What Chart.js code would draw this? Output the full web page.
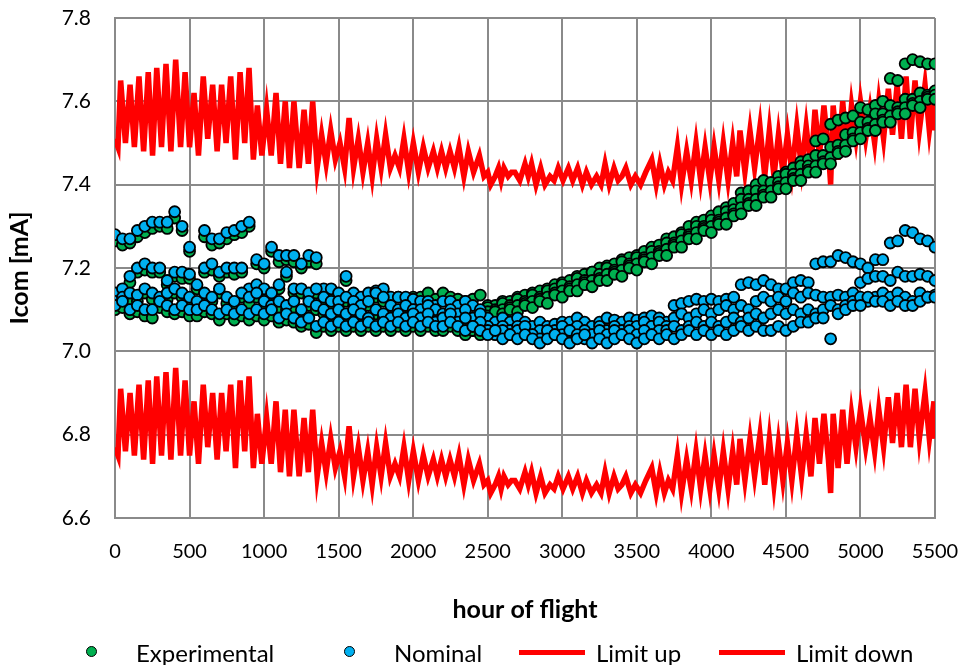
<!DOCTYPE html>
<html>
<head>
<meta charset="utf-8">
<title>Icom vs hour of flight</title>
<script src="https://cdn.jsdelivr.net/npm/chart.js@4.4.1/dist/chart.umd.min.js"></script>
<style>
  html, body { margin: 0; padding: 0; background: #ffffff; }
  #wrap { position: relative; width: 960px; height: 665px; overflow: hidden; }
  #chart { position: absolute; left: 0; top: 0; }
  .lg-item { position: absolute; top: 638px; height: 28px; display: flex; align-items: center;
             font-family: Lato, "Open Sans", "DejaVu Sans", sans-serif; font-size: 24px; color: #000; white-space: nowrap; }
  .lg-key { position: relative; width: 66px; height: 28px; flex: none; }
  .lg-dot { position: absolute; left: 27px; top: 8px; width: 9px; height: 9px; border: 1.5px solid #000; border-radius: 50%; }
  .lg-bar { position: absolute; left: 0; top: 11.5px; width: 66px; height: 5px; }
  .lg-txt { margin-left: 11px; }
</style>
</head>
<body>
<div id="wrap">
  <canvas id="chart" width="960" height="665"></canvas>
  <div id="legend"></div>
</div>
<script>
// Sampling hours for the measured current strands
const hours = [
  0, 50, 100, 150, 200, 250, 300, 350, 400, 450,
  500, 550, 600, 650, 700, 750, 800, 850, 900, 950,
  1000, 1050, 1100, 1150, 1200, 1250, 1300, 1350, 1400, 1450,
  1500, 1550, 1600, 1650, 1700, 1750, 1800, 1850, 1900, 1950,
  2000, 2050, 2100, 2150, 2200, 2250, 2300, 2350, 2400, 2450,
  2500, 2550, 2600, 2650, 2700, 2750, 2800, 2850, 2900, 2950,
  3000, 3050, 3100, 3150, 3200, 3250, 3300, 3350, 3400, 3450,
  3500, 3550, 3600, 3650, 3700, 3750, 3800, 3850, 3900, 3950,
  4000, 4050, 4100, 4150, 4200, 4250, 4300, 4350, 4400, 4450,
  4500, 4550, 4600, 4650, 4700, 4750, 4800, 4850, 4900, 4950,
  5000, 5050, 5100, 5150, 5200, 5250, 5300, 5350, 5400, 5450,
  5500
];

// Nominal Icom [mA], four interleaved strands
const nominalA = [
  7.28, 7.27, 7.27, 7.29, 7.30, 7.31, 7.31, 7.31, 7.335, 7.30,
  7.25, null, 7.29, 7.27, 7.27, 7.285, 7.29, 7.30, 7.31, 7.22,
  7.21, 7.25, 7.23, 7.23, 7.23, 7.21, 7.23, 7.225, 7.15, 7.15,
  7.14, 7.18, 7.14, 7.13, 7.14, 7.145, 7.15, 7.13, 7.13, 7.13,
  7.125, 7.12, 7.12, 7.11, 7.12, 7.12, 7.11, 7.12, 7.11, 7.10,
  7.08, 7.07, 7.08, 7.07, 7.08, 7.07, 7.06, 7.07, 7.06, 7.065,
  7.07, 7.07, 7.08, 7.07, 7.06, 7.07, 7.08, 7.075, 7.07, 7.08,
  7.075, 7.08, 7.085, 7.08, 7.07, 7.11, 7.115, 7.12, 7.125, 7.12,
  7.125, 7.12, 7.125, 7.13, 7.16, 7.165, 7.16, 7.17, 7.16, 7.15,
  7.15, 7.165, 7.17, 7.165, 7.21, 7.215, 7.215, 7.23, 7.225, 7.215,
  7.21, 7.20, 7.22, 7.22, 7.26, 7.265, 7.29, 7.285, 7.27, 7.265,
  7.25
];
const nominalB = [
  7.14, 7.15, 7.18, 7.20, 7.21, 7.20, 7.20, 7.17, 7.19, 7.19,
  7.185, 7.16, 7.20, 7.21, 7.19, 7.20, 7.20, 7.20, 7.15, 7.16,
  7.15, 7.14, 7.16, 7.19, 7.15, 7.15, 7.14, 7.15, 7.13, 7.12,
  7.12, 7.13, 7.12, 7.11, 7.12, 7.14, 7.13, 7.11, 7.10, 7.11,
  7.10, 7.10, 7.11, 7.10, 7.09, 7.10, 7.09, 7.10, 7.08, 7.09,
  7.06, 7.05, 7.06, 7.05, 7.06, 7.05, 7.04, 7.05, 7.04, 7.05,
  7.06, 7.05, 7.06, 7.05, 7.04, 7.06, 7.05, 7.06, 7.05, 7.06,
  7.06, 7.07, 7.06, 7.07, 7.06, 7.08, 7.09, 7.08, 7.09, 7.10,
  7.09, 7.10, 7.11, 7.10, 7.11, 7.10, 7.12, 7.13, 7.12, 7.13,
  7.12, 7.14, 7.13, 7.14, 7.135, 7.13, 7.13, 7.135, 7.13, 7.14,
  7.165, 7.175, 7.18, 7.18, 7.17, 7.19, 7.18, 7.18, 7.185, 7.18,
  7.17
];
const nominalC = [
  7.12, 7.13, 7.14, 7.135, 7.15, 7.14, 7.13, 7.14, 7.15, 7.14,
  7.13, 7.12, 7.14, 7.13, 7.15, 7.13, 7.12, 7.14, 7.13, 7.14,
  7.12, 7.11, 7.12, 7.11, 7.12, 7.10, 7.12, 7.11, 7.10, 7.09,
  7.10, 7.09, 7.10, 7.09, 7.08, 7.10, 7.09, 7.08, 7.09, 7.08,
  7.09, 7.08, 7.09, 7.07, 7.08, 7.09, 7.07, 7.08, 7.06, 7.07,
  7.05, 7.04, 7.05, 7.04, 7.05, 7.06, 7.04, 7.03, 7.05, 7.04,
  7.04, 7.05, 7.04, 7.03, 7.04, 7.05, 7.04, 7.05, 7.04, 7.05,
  7.04, 7.05, 7.04, 7.05, 7.05, 7.06, 7.05, 7.06, 7.07, 7.06,
  7.07, 7.06, 7.07, 7.08, 7.07, 7.08, 7.09, 7.08, 7.09, 7.10,
  7.09, 7.10, 7.09, 7.10, 7.09, 7.10, 7.11, 7.10, 7.11, 7.12,
  7.13, 7.12, 7.13, 7.14, 7.13, 7.14, 7.13, 7.12, 7.14, 7.13,
  7.135
];
const nominalD = [
  7.11, 7.12, 7.10, 7.11, 7.10, 7.10, 7.12, 7.11, 7.10, 7.11,
  7.10, 7.10, 7.11, 7.10, 7.09, 7.10, 7.09, 7.10, 7.09, 7.10,
  7.09, 7.10, 7.08, 7.09, 7.08, 7.07, 7.08, 7.06, 7.07, 7.06,
  7.07, 7.06, 7.07, 7.06, 7.07, 7.06, 7.07, 7.06, 7.07, 7.06,
  7.07, 7.06, 7.07, 7.06, 7.06, 7.07, 7.06, 7.05, 7.06, 7.05,
  7.04, 7.05, 7.03, 7.04, 7.03, 7.04, 7.03, 7.02, 7.03, 7.04,
  7.03, 7.02, 7.03, 7.04, 7.02, 7.03, 7.02, 7.03, 7.04, 7.03,
  7.02, 7.03, 7.04, 7.03, 7.04, 7.03, 7.04, 7.05, 7.04, 7.05,
  7.04, 7.05, 7.04, 7.05, 7.06, 7.05, 7.06, 7.05, 7.05, 7.06,
  7.05, 7.06, 7.07, 7.07, 7.08, 7.08, 7.03, 7.09, 7.10, 7.11,
  7.11, 7.13, 7.12, 7.12, 7.11, 7.12, 7.11, 7.11, 7.12, 7.13,
  7.13
];

// Experimental Icom [mA], four interleaved strands
const experimentalA = [
  7.265, 7.255, 7.26, 7.275, 7.285, 7.295, 7.30, 7.295, 7.32, 7.29,
  7.24, null, 7.275, 7.255, 7.26, 7.27, 7.28, 7.285, 7.30, 7.21,
  7.20, 7.24, 7.215, 7.22, 7.215, 7.20, 7.215, 7.21, 7.14, 7.14,
  7.13, 7.17, 7.13, 7.125, 7.13, 7.135, 7.14, 7.125, 7.13, 7.125,
  7.13, 7.13, 7.14, 7.125, 7.14, 7.13, 7.125, 7.12, 7.125, 7.135,
  7.11, 7.11, 7.12, 7.12, 7.13, 7.135, 7.14, 7.145, 7.15, 7.16,
  7.165, 7.17, 7.18, 7.185, 7.19, 7.20, 7.205, 7.21, 7.22, 7.225,
  7.23, 7.24, 7.25, 7.255, 7.27, 7.275, 7.285, 7.30, 7.31, 7.315,
  7.325, 7.335, 7.345, 7.355, 7.38, 7.385, 7.40, 7.41, 7.405, 7.42,
  7.43, 7.44, 7.455, 7.46, 7.505, 7.51, 7.545, 7.555, 7.56, 7.565,
  7.585, 7.58, 7.59, 7.60, 7.655, 7.65, 7.69, 7.70, 7.695, 7.69,
  7.69
];
const experimentalB = [
  7.13, 7.14, 7.165, 7.19, 7.195, 7.19, 7.19, 7.16, 7.18, 7.175,
  7.175, 7.15, 7.19, 7.195, 7.18, 7.19, 7.185, 7.19, 7.14, 7.15,
  7.14, 7.13, 7.15, 7.18, 7.14, 7.14, 7.13, 7.14, 7.12, 7.11,
  7.11, 7.12, 7.11, 7.10, 7.11, 7.13, 7.12, 7.10, 7.09, 7.10,
  7.09, 7.09, 7.10, 7.09, 7.08, 7.09, 7.08, 7.09, 7.07, 7.08,
  7.105, 7.10, 7.115, 7.11, 7.125, 7.12, 7.135, 7.13, 7.145, 7.15,
  7.16, 7.155, 7.175, 7.17, 7.19, 7.185, 7.20, 7.195, 7.215, 7.21,
  7.225, 7.225, 7.24, 7.24, 7.26, 7.26, 7.28, 7.28, 7.30, 7.30,
  7.315, 7.315, 7.335, 7.34, 7.365, 7.365, 7.385, 7.385, 7.405, 7.405,
  7.425, 7.425, 7.445, 7.445, 7.47, 7.47, 7.49, 7.495, 7.52, 7.525,
  7.55, 7.55, 7.57, 7.57, 7.59, 7.585, 7.605, 7.605, 7.62, 7.615,
  7.625
];
const experimentalC = [
  7.11, 7.12, 7.125, 7.12, 7.14, 7.125, 7.12, 7.125, 7.14, 7.13,
  7.12, 7.105, 7.125, 7.12, 7.14, 7.115, 7.11, 7.13, 7.115, 7.13,
  7.105, 7.10, 7.105, 7.10, 7.105, 7.09, 7.11, 7.10, 7.09, 7.08,
  7.09, 7.08, 7.09, 7.08, 7.07, 7.09, 7.08, 7.07, 7.08, 7.07,
  7.08, 7.07, 7.08, 7.06, 7.07, 7.08, 7.06, 7.07, 7.05, 7.06,
  7.095, 7.095, 7.10, 7.105, 7.11, 7.115, 7.12, 7.125, 7.13, 7.14,
  7.145, 7.15, 7.16, 7.165, 7.17, 7.175, 7.185, 7.19, 7.195, 7.205,
  7.21, 7.22, 7.225, 7.235, 7.245, 7.255, 7.265, 7.275, 7.285, 7.295,
  7.30, 7.31, 7.32, 7.33, 7.345, 7.355, 7.365, 7.375, 7.385, 7.395,
  7.405, 7.415, 7.425, 7.435, 7.445, 7.455, 7.465, 7.48, 7.495, 7.51,
  7.525, 7.535, 7.545, 7.555, 7.565, 7.575, 7.585, 7.595, 7.60, 7.61,
  7.615
];
const experimentalD = [
  7.10, 7.105, 7.09, 7.095, 7.085, 7.08, 7.105, 7.095, 7.09, 7.095,
  7.085, 7.085, 7.095, 7.09, 7.075, 7.09, 7.075, 7.085, 7.075, 7.085,
  7.075, 7.085, 7.07, 7.075, 7.07, 7.06, 7.065, 7.045, 7.06, 7.05,
  7.06, 7.05, 7.06, 7.05, 7.06, 7.05, 7.06, 7.05, 7.06, 7.05,
  7.06, 7.05, 7.06, 7.05, 7.05, 7.06, 7.05, 7.04, 7.05, 7.04,
  7.085, 7.095, 7.09, 7.10, 7.095, 7.11, 7.105, 7.12, 7.115, 7.135,
  7.13, 7.145, 7.145, 7.16, 7.155, 7.17, 7.17, 7.185, 7.18, 7.20,
  7.195, 7.215, 7.21, 7.23, 7.23, 7.25, 7.25, 7.27, 7.27, 7.29,
  7.285, 7.305, 7.305, 7.325, 7.33, 7.35, 7.35, 7.37, 7.37, 7.39,
  7.39, 7.41, 7.41, 7.43, 7.43, 7.45, 7.45, 7.475, 7.48, 7.505,
  7.51, 7.53, 7.53, 7.55, 7.55, 7.57, 7.57, 7.59, 7.585, 7.605,
  7.605
];

// Acceptance band vertices (hour of flight) and its upper / lower limits [mA]
const limitHours = [
  0, 20, 38, 70, 101, 130, 161, 192, 223, 252, 280, 312, 342, 375, 407, 440, 470, 500, 530, 560,
  592, 622, 655, 685, 715, 745, 776, 808, 839, 870, 899, 928, 955, 985, 1017, 1048, 1080, 1110, 1142, 1170,
  1200, 1235, 1268, 1297, 1326, 1356, 1386, 1416, 1447, 1478, 1509, 1540, 1570, 1600, 1632, 1663, 1695, 1725, 1755, 1785,
  1815, 1847, 1878, 1908, 1938, 1970, 2001, 2035, 2068, 2100, 2135, 2162, 2190, 2218, 2247, 2277, 2307, 2340, 2370, 2405,
  2444, 2475, 2500, 2520, 2550, 2572, 2590, 2609, 2637, 2660, 2682, 2715, 2750, 2772, 2794, 2824, 2855, 2884, 2918, 2945,
  2973, 3005, 3041, 3070, 3103, 3135, 3162, 3196, 3230, 3260, 3287, 3315, 3347, 3375, 3400, 3426, 3460, 3490, 3525, 3560,
  3600, 3630, 3655, 3685, 3712, 3740, 3772, 3800, 3834, 3865, 3897, 3928, 3958, 3990, 4018, 4050, 4080, 4112, 4143, 4170,
  4192, 4225, 4259, 4290, 4326, 4358, 4389, 4420, 4450, 4480, 4510, 4540, 4573, 4605, 4636, 4668, 4695, 4725, 4755, 4785,
  4800, 4817, 4850, 4881, 4910, 4940, 4970, 5000, 5035, 5064, 5095, 5123, 5155, 5187, 5215, 5246, 5275, 5306, 5335, 5366,
  5395, 5433, 5462, 5493, 5500
];
const limitUp = [
  7.51, 7.49, 7.65, 7.50, 7.64, 7.49, 7.66, 7.48, 7.67, 7.47, 7.68, 7.49, 7.69, 7.48, 7.70, 7.49, 7.67, 7.49, 7.62, 7.47,
  7.66, 7.51, 7.64, 7.48, 7.64, 7.50, 7.66, 7.46, 7.67, 7.50, 7.68, 7.46, 7.59, 7.47, 7.58, 7.47, 7.62, 7.45, 7.60, 7.44,
  7.60, 7.44, 7.58, 7.45, 7.60, 7.44, 7.52, 7.45, 7.53, 7.46, 7.50, 7.44, 7.56, 7.44, 7.51, 7.43, 7.50, 7.42, 7.51, 7.44,
  7.52, 7.44, 7.47, 7.44, 7.51, 7.43, 7.50, 7.43, 7.49, 7.44, 7.48, 7.44, 7.48, 7.44, 7.48, 7.44, 7.49, 7.42, 7.48, 7.43,
  7.47, 7.42, 7.43, 7.40, 7.42, 7.44, 7.41, 7.44, 7.42, 7.43, 7.43, 7.41, 7.45, 7.42, 7.45, 7.40, 7.44, 7.40, 7.42, 7.41,
  7.44, 7.41, 7.44, 7.41, 7.44, 7.40, 7.43, 7.40, 7.42, 7.40, 7.45, 7.40, 7.44, 7.41, 7.42, 7.44, 7.40, 7.42, 7.40, 7.43,
  7.46, 7.40, 7.45, 7.40, 7.43, 7.41, 7.49, 7.40, 7.48, 7.41, 7.50, 7.41, 7.49, 7.41, 7.49, 7.41, 7.50, 7.41, 7.50, 7.42,
  7.53, 7.43, 7.53, 7.44, 7.54, 7.42, 7.53, 7.42, 7.52, 7.43, 7.52, 7.43, 7.54, 7.44, 7.54, 7.44, 7.58, 7.47, 7.59, 7.48,
  7.40, 7.59, 7.46, 7.60, 7.47, 7.59, 7.51, 7.60, 7.51, 7.58, 7.50, 7.60, 7.51, 7.63, 7.52, 7.64, 7.51, 7.66, 7.51, 7.65,
  7.53, 7.64, 7.53, 7.62, 7.53
];
const limitDown = [
  6.77, 6.75, 6.91, 6.76, 6.90, 6.75, 6.92, 6.74, 6.93, 6.73, 6.94, 6.75, 6.95, 6.74, 6.96, 6.75, 6.93, 6.75, 6.88, 6.73,
  6.92, 6.77, 6.90, 6.74, 6.90, 6.76, 6.92, 6.72, 6.93, 6.76, 6.94, 6.72, 6.85, 6.73, 6.84, 6.73, 6.88, 6.71, 6.86, 6.70,
  6.86, 6.70, 6.84, 6.71, 6.86, 6.70, 6.78, 6.71, 6.79, 6.72, 6.76, 6.70, 6.82, 6.70, 6.77, 6.69, 6.76, 6.68, 6.77, 6.70,
  6.78, 6.70, 6.73, 6.70, 6.77, 6.69, 6.76, 6.69, 6.75, 6.70, 6.74, 6.70, 6.74, 6.70, 6.74, 6.70, 6.75, 6.68, 6.74, 6.69,
  6.73, 6.68, 6.69, 6.66, 6.68, 6.70, 6.67, 6.70, 6.68, 6.69, 6.69, 6.67, 6.71, 6.68, 6.71, 6.66, 6.70, 6.66, 6.68, 6.67,
  6.70, 6.67, 6.70, 6.67, 6.70, 6.66, 6.69, 6.66, 6.68, 6.66, 6.71, 6.66, 6.70, 6.67, 6.68, 6.70, 6.66, 6.68, 6.66, 6.69,
  6.72, 6.66, 6.71, 6.66, 6.69, 6.67, 6.75, 6.66, 6.74, 6.67, 6.76, 6.67, 6.75, 6.67, 6.75, 6.67, 6.76, 6.67, 6.76, 6.68,
  6.79, 6.69, 6.79, 6.70, 6.80, 6.68, 6.79, 6.68, 6.78, 6.69, 6.78, 6.69, 6.80, 6.70, 6.80, 6.70, 6.84, 6.73, 6.85, 6.74,
  6.66, 6.85, 6.72, 6.86, 6.73, 6.85, 6.77, 6.86, 6.77, 6.84, 6.76, 6.86, 6.77, 6.89, 6.78, 6.90, 6.77, 6.92, 6.77, 6.91,
  6.79, 6.90, 6.79, 6.88, 6.79
];

// Y-axis tick values
const yTicks = [6.6, 6.8, 7.0, 7.2, 7.4, 7.6, 7.8];

// Build {x, y} points from the hour grid and a set of strands
function strandPoints(strands) {
  const pts = [];
  strands.forEach(strand => {
    strand.forEach((v, i) => { if (v !== null) pts.push({ x: hours[i], y: v }); });
  });
  return pts;
}
function linePoints(xs, ys) {
  return xs.map((x, i) => ({ x: x, y: ys[i] }));
}

const FONT = 'Lato, "Open Sans", "DejaVu Sans", sans-serif';
const GRID = '#8a8a8a';
Chart.defaults.font.family = FONT;
Chart.defaults.color = '#000';

const chart = new Chart(document.getElementById('chart'), {
  type: 'scatter',
  data: {
    datasets: [
      {
        label: 'Experimental',
        data: strandPoints([experimentalA, experimentalB, experimentalC, experimentalD]),
        backgroundColor: '#00b050',
        borderColor: '#000000',
        borderWidth: 1.8,
        pointRadius: 5.5,
        order: 1
      },
      {
        label: 'Nominal',
        data: strandPoints([nominalA, nominalB, nominalC, nominalD]),
        backgroundColor: '#00b0f0',
        borderColor: '#000000',
        borderWidth: 1.8,
        pointRadius: 5.5,
        order: 0
      },
      {
        type: 'line',
        label: 'Limit up',
        data: linePoints(limitHours, limitUp),
        borderColor: '#ff0000',
        backgroundColor: '#ff0000',
        borderWidth: 5.5,
        pointRadius: 0,
        tension: 0,
        fill: false,
        order: 2
      },
      {
        type: 'line',
        label: 'Limit down',
        data: linePoints(limitHours, limitDown),
        borderColor: '#ff0000',
        backgroundColor: '#ff0000',
        borderWidth: 5.5,
        pointRadius: 0,
        tension: 0,
        fill: false,
        order: 3
      }
    ]
  },
  options: {
    responsive: false,
    animation: false,
    events: [],
    layout: { padding: { left: 0, right: 25, top: 18, bottom: 37 } },
    plugins: {
      legend: { display: false },
      tooltip: { enabled: false }
    },
    scales: {
      x: {
        type: 'linear',
        min: 0,
        max: 5500,
        ticks: { stepSize: 500, padding: 22, maxRotation: 0, font: { size: 20 }, color: '#000',
                 callback: v => String(v) },
        grid: { color: GRID, lineWidth: 2, drawTicks: false },
        border: { color: GRID, width: 2 },
        title: { display: true, text: 'hour of flight', font: { size: 25, weight: 'bold' }, color: '#000',
                 padding: { top: 0, bottom: 3 } },
        afterFit(scale) {
          scale.height = 110;
          scale.paddingLeft = 0;
          scale.paddingRight = 0;
        }
      },
      y: {
        min: 6.6,
        max: 7.8,
        afterBuildTicks(scale) { scale.ticks = yTicks.map(v => ({ value: v })); },
        ticks: { padding: 24, font: { size: 21 }, color: '#000', callback: v => Number(v).toFixed(1) },
        grid: { color: GRID, lineWidth: 2, drawTicks: false },
        border: { color: GRID, width: 2 },
        title: { display: true, text: 'Icom [mA]', font: { size: 25, weight: 'bold' }, color: '#000',
                 padding: { top: 5, bottom: 0 } },
        afterFit(scale) {
          scale.width = 115;
          scale.paddingTop = 0;
          scale.paddingBottom = 0;
        }
      }
    }
  }
});

// Legend row under the axis title, built from the chart's datasets
const keyLefts = [59, 317, 519, 719];
const legendEl = document.getElementById('legend');
chart.data.datasets.forEach((ds, i) => {
  const item = document.createElement('div');
  item.className = 'lg-item';
  item.style.left = keyLefts[i] + 'px';
  const key = document.createElement('div');
  key.className = 'lg-key';
  const mark = document.createElement('div');
  if (ds.type === 'line') {
    mark.className = 'lg-bar';
    mark.style.background = ds.borderColor;
  } else {
    mark.className = 'lg-dot';
    mark.style.background = ds.backgroundColor;
  }
  key.appendChild(mark);
  const txt = document.createElement('span');
  txt.className = 'lg-txt';
  txt.textContent = ds.label;
  item.appendChild(key);
  item.appendChild(txt);
  legendEl.appendChild(item);
});
</script>
</body>
</html>
